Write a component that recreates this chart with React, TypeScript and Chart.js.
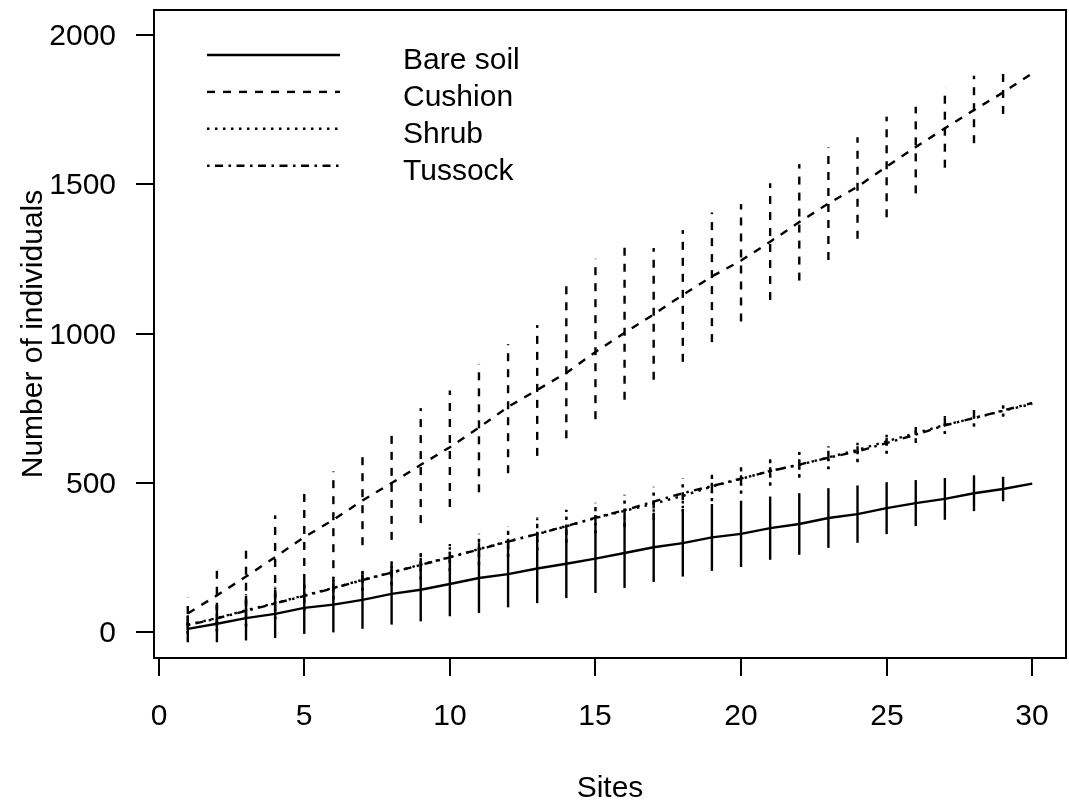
import { useEffect, useRef } from "react";
import { Chart, registerables } from "chart.js";

Chart.register(...registerables);

// ---- data ----
const sites = [1, 2, 3, 4, 5, 6, 7, 8, 9, 10, 11, 12, 13, 14, 15, 16, 17, 18, 19, 20, 21, 22, 23, 24, 25, 26, 27, 28, 29, 30];

const bareSoil = [12, 29, 48, 62, 82, 93, 109, 129, 143, 162, 182, 195, 214, 230, 247, 266, 285, 299, 318, 330, 349, 363, 383, 396, 416, 433, 447, 466, 480, 498];
const bareSoilLower = [45, 62, 75, 81, 87, 93, 97, 103, 106, 108, 117, 111, 116, 115, 115, 117, 116, 112, 112, 111, 106, 103, 100, 96, 87, 77, 70, 60, 41, 0];
const bareSoilUpper = [45, 62, 75, 81, 87, 93, 97, 103, 106, 108, 117, 111, 116, 115, 115, 117, 116, 112, 112, 111, 106, 103, 100, 96, 87, 77, 70, 60, 41, 0];

const cushion = [63, 124, 187, 252, 319, 377, 442, 500, 561, 620, 686, 755, 812, 869, 939, 1003, 1065, 1130, 1192, 1245, 1308, 1374, 1436, 1492, 1560, 1625, 1688, 1749, 1808, 1872];
const cushionLower = [55, 105, 101, 140, 150, 162, 150, 190, 195, 200, 217, 222, 221, 219, 225, 224, 219, 224, 220, 204, 195, 196, 189, 174, 170, 155, 132, 111, 72, 0];
const cushionUpper = [53, 106, 101, 140, 150, 162, 150, 181, 190, 190, 213, 210, 217, 315, 312, 308, 222, 217, 214, 189, 196, 194, 188, 166, 167, 135, 136, 115, 64, 0];

const shrub = [26, 48, 74, 98, 124, 149, 176, 201, 227, 252, 279, 305, 330, 355, 383, 407, 431, 457, 489, 514, 541, 561, 586, 611, 640, 667, 695, 717, 742, 765];
const shrubLower = [30, 45, 55, 55, 52, 35, 34, 40, 50, 44, 54, 53, 55, 56, 52, 54, 54, 52, 50, 50, 50, 43, 40, 38, 40, 25, 30, 28, 20, 0];
const shrubUpper = [30, 45, 55, 55, 52, 35, 34, 40, 50, 44, 54, 53, 55, 56, 52, 54, 54, 52, 50, 50, 50, 43, 40, 38, 40, 25, 30, 28, 20, 0];

const tussock = [24, 47, 72, 97, 122, 148, 175, 200, 226, 251, 278, 304, 329, 356, 384, 409, 438, 466, 490, 515, 540, 562, 585, 606, 634, 662, 693, 718, 743, 768];
const tussockLower = [28, 42, 50, 52, 48, 38, 36, 42, 46, 46, 50, 50, 52, 52, 50, 50, 50, 50, 48, 48, 46, 40, 38, 36, 36, 28, 28, 26, 18, 0];
const tussockUpper = [28, 42, 50, 52, 48, 38, 36, 42, 46, 46, 50, 50, 52, 52, 50, 50, 50, 50, 48, 48, 46, 40, 38, 36, 36, 28, 28, 26, 18, 0];

const seriesNames = ["Bare soil", "Cushion", "Shrub", "Tussock"];
const xTicks = [0, 5, 10, 15, 20, 25, 30];
const yTicks = [0, 500, 1000, 1500, 2000];
const xTitle = "Sites";
const yTitle = "Number of individuals";

const FONT = '30px "Liberation Sans", Arial, sans-serif';
const LW = 2.4;

const toPoints = (vals: number[]) => vals.map((v, i) => ({ x: sites[i], y: v }));

const rStylePlugin = {
  id: "rStyle",
  afterDatasetsDraw(chart: any) {
    const ctx = chart.ctx as CanvasRenderingContext2D;
    const xs = chart.scales.x;
    const ys = chart.scales.y;
    const area = chart.chartArea;

    // error bars
    ctx.save();
    ctx.beginPath();
    ctx.rect(area.left, area.top, area.right - area.left, area.bottom - area.top);
    ctx.clip();
    chart.data.datasets.forEach((ds: any) => {
      const lo: number[] = ds.ciLower;
      const hi: number[] = ds.ciUpper;
      ctx.save();
      ctx.strokeStyle = "#000";
      ctx.lineWidth = LW;
      ctx.lineCap = "butt";
      ds.data.forEach((p: any, j: number) => {
        if (!lo[j] && !hi[j]) return;
        const x = xs.getPixelForValue(p.x);
        ctx.setLineDash(ds.borderDash || []);
        ctx.beginPath();
        ctx.moveTo(x, ys.getPixelForValue(p.y - lo[j]));
        ctx.lineTo(x, ys.getPixelForValue(p.y + hi[j]));
        ctx.stroke();
      });
      ctx.restore();
    });
    ctx.restore();

    // box
    ctx.save();
    ctx.strokeStyle = "#000";
    ctx.lineWidth = 2;
    ctx.setLineDash([]);
    ctx.strokeRect(area.left, area.top, area.right - area.left, area.bottom - area.top);

    // x axis ticks + labels
    ctx.fillStyle = "#000";
    ctx.font = FONT;
    ctx.textAlign = "center";
    ctx.textBaseline = "alphabetic";
    xTicks.forEach((t) => {
      const x = Math.round(xs.getPixelForValue(t));
      ctx.beginPath();
      ctx.moveTo(x, area.bottom);
      ctx.lineTo(x, area.bottom + 18);
      ctx.stroke();
      ctx.fillText(String(t), x, 725);
    });
    // y axis ticks + labels
    ctx.textAlign = "right";
    yTicks.forEach((t) => {
      const y = Math.round(ys.getPixelForValue(t));
      ctx.beginPath();
      ctx.moveTo(area.left, y);
      ctx.lineTo(area.left - 18, y);
      ctx.stroke();
      ctx.fillText(String(t), 116, y + 10);
    });

    // titles
    ctx.textAlign = "center";
    ctx.fillText(xTitle, (area.left + area.right) / 2, 797);
    ctx.save();
    ctx.translate(42, (area.top + area.bottom) / 2);
    ctx.rotate(-Math.PI / 2);
    ctx.fillText(yTitle, 0, 0);
    ctx.restore();

    // legend
    ctx.textAlign = "left";
    chart.data.datasets.forEach((ds: any, i: number) => {
      const ly = 55 + i * 36.9;
      ctx.setLineDash(ds.borderDash || []);
      ctx.lineWidth = LW;
      ctx.beginPath();
      ctx.moveTo(207, ly);
      ctx.lineTo(340, ly);
      ctx.stroke();
      ctx.setLineDash([]);
      ctx.fillText(ds.label, 403, ly + 14);
    });
    ctx.restore();
  },
};

export default function App() {
  const ref = useRef<HTMLCanvasElement | null>(null);

  useEffect(() => {
    if (!ref.current) return;
    const mk = (label: string, vals: number[], lo: number[], hi: number[], dash: number[]) => ({
      label,
      data: toPoints(vals),
      ciLower: lo,
      ciUpper: hi,
      borderColor: "#000",
      borderWidth: LW,
      borderDash: dash,
      pointRadius: 0,
      tension: 0,
      fill: false,
    });
    const chart = new Chart(ref.current, {
      type: "line",
      data: {
        datasets: [
          mk(seriesNames[0], bareSoil, bareSoilLower, bareSoilUpper, []),
          mk(seriesNames[1], cushion, cushionLower, cushionUpper, [8, 8]),
          mk(seriesNames[2], shrub, shrubLower, shrubUpper, [2.5, 5.5]),
          mk(seriesNames[3], tussock, tussockLower, tussockUpper, [2.5, 5.5, 8, 5.5]),
        ] as any,
      },
      options: {
        animation: false,
        responsive: true,
        maintainAspectRatio: false,
        layout: { padding: { left: 154, top: 10, right: 3, bottom: 145 } },
        plugins: { legend: { display: false }, tooltip: { enabled: false }, title: { display: false } },
        scales: {
          x: { type: "linear", min: -0.16, max: 31.16, display: false },
          y: { type: "linear", min: -85.7, max: 2084, display: false },
        },
      },
      plugins: [rStylePlugin],
    });
    return () => chart.destroy();
  }, []);

  return (
    <div style={{ position: "absolute", left: 0, top: 0, width: 1069, height: 803, background: "#fff" }}>
      <canvas ref={ref} />
    </div>
  );
}
